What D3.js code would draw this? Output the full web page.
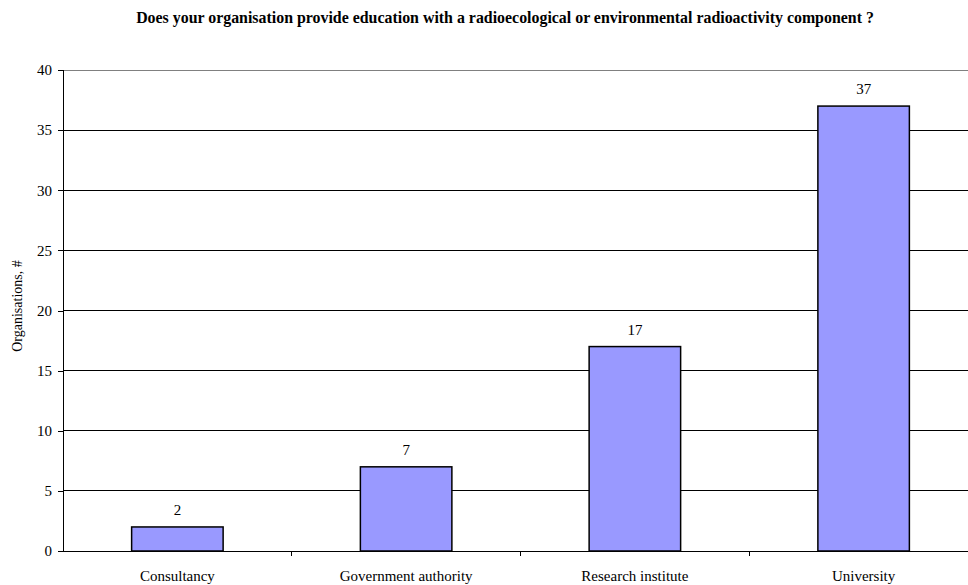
<!DOCTYPE html>
<html><head><meta charset="utf-8">
<script src="https://cdn.jsdelivr.net/npm/d3@7"></script>
<style>body{margin:0;background:#fff}svg{display:block;font-family:"Liberation Serif","Times New Roman",serif}</style>
</head><body><svg id="c" width="968" height="585"></svg>
<script>
const categories = ["Consultancy", "Government authority", "Research institute", "University"];
const values = [2, 7, 17, 37];
const yTicks = [0, 5, 10, 15, 20, 25, 30, 35, 40];
const title = "Does your organisation provide education with a radioecological or environmental radioactivity component ?";
const yLabel = "Organisations, #";

const svg = d3.select("#c");
const L = 63, R = 978, T = 70, B = 551;
const x = d3.scaleBand().domain(categories).range([L, R]).padding(0);
const y = d3.scaleLinear().domain([0, 40]).range([B, T]);

svg.append("text").attr("x", 505).attr("y", 23).attr("text-anchor", "middle")
  .attr("font-weight", "bold").attr("font-size", 15.9).text(title);

// gridlines
svg.append("g").selectAll("line").data(yTicks.filter(d => d > 0)).join("line")
  .attr("x1", L).attr("x2", R).attr("y1", d => y(d)).attr("y2", d => y(d))
  .attr("stroke", d => d === 40 ? "#808080" : "#000").attr("stroke-width", 1)
  .attr("shape-rendering", "crispEdges");

// y axis
const ya = svg.append("g").attr("transform", `translate(${L},0)`)
  .call(d3.axisLeft(y).tickValues(yTicks).tickSize(5).tickPadding(6));
ya.selectAll("text").attr("font-size", 15).attr("font-family", "Liberation Serif").attr("fill", "#000");
ya.selectAll("line,path").attr("stroke", "#000").attr("shape-rendering", "crispEdges");
ya.select(".domain").attr("d", `M-5,${T}H0V${B}`);

// bars
const bw = x.bandwidth() * 0.4;
svg.append("g").selectAll("rect").data(values).join("rect")
  .attr("x", (d, i) => x(categories[i]) + x.bandwidth() / 2 - bw / 2)
  .attr("y", d => y(d)).attr("width", bw).attr("height", d => B - y(d))
  .attr("fill", "#9999FF").attr("stroke", "#000").attr("stroke-width", 1.5);

// value labels
svg.append("g").selectAll("text").data(values).join("text")
  .attr("x", (d, i) => x(categories[i]) + x.bandwidth() / 2)
  .attr("y", d => y(d) - 12).attr("text-anchor", "middle").attr("font-size", 15)
  .text(d => d);

// x axis
svg.append("line").attr("x1", L).attr("x2", R).attr("y1", B).attr("y2", B)
  .attr("stroke", "#000").attr("shape-rendering", "crispEdges");
svg.append("g").selectAll("line").data(categories.slice(1)).join("line")
  .attr("x1", d => x(d)).attr("x2", d => x(d)).attr("y1", B).attr("y2", B + 5)
  .attr("stroke", "#000").attr("shape-rendering", "crispEdges");
svg.append("g").selectAll("text").data(categories).join("text")
  .attr("x", d => x(d) + x.bandwidth() / 2).attr("y", 581).attr("text-anchor", "middle")
  .attr("font-size", 15).text(d => d);

svg.append("text").attr("transform", `translate(22,306) rotate(-90)`)
  .attr("text-anchor", "middle").attr("font-size", 14).text(yLabel);
</script></body></html>
